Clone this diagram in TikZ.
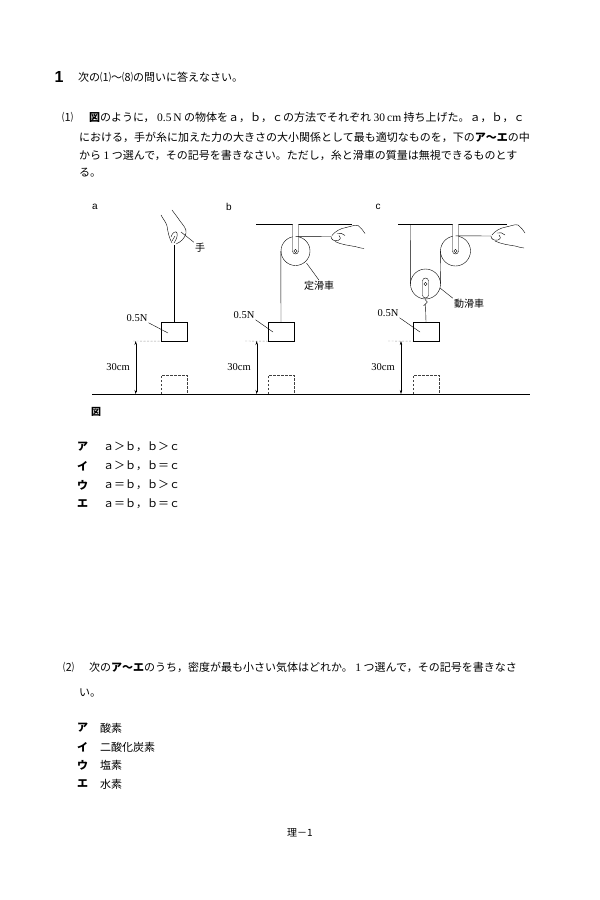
\documentclass[tikz,border=0pt]{standalone}
\usepackage{fontspec}
\setmainfont{Liberation Serif}
\setsansfont{Liberation Sans}
\newfontfamily\jp{Noto Sans CJK JP}
\XeTeXlinebreaklocale "ja"
\XeTeXlinebreakskip=0pt plus 3pt minus 1pt
\usetikzlibrary{positioning, arrows.meta}
\tikzset{>=stealth}
\newcommand\latn[1]{\hspace{2.5pt}{\rmfamily\fontsize{11.5}{11.5}\selectfont #1}\hspace{2.5pt}}
\newcommand\gth[1]{{\bfseries #1}}
\newcommand\jline[2]{\makebox[#1][s]{#2}}
\tikzset{
  weight/.style={draw, minimum width=26pt, minimum height=19pt, inner sep=0pt},
  ghost/.style={draw=black!75, dash pattern=on 2.5pt off 1.5pt},
  level/.style={draw=black!40, dash pattern=on 2pt off 1.5pt},
  pulley/.style={draw, circle, inner sep=0pt, fill=white},
  dim/.style={<->, >={Stealth[length=4pt, width=2.4pt]}},
  hand/.style={line width=0.4pt, line cap=round},
  fig/.style={font=\rmfamily\fontsize{10.5}{10.5}\selectfont, inner sep=1pt},
  figj/.style={font=\jp\fontsize{10}{10}\selectfont, inner sep=1pt},
  jtxt/.style={anchor=west, inner sep=0pt, font=\jp\fontsize{11}{11}\selectfont},
  grip/.pic={
    \draw[hand] (1,-1) .. controls (4,-5) and (9,-8) .. (15,-9) .. controls (20,-10) and (24,-12) .. (27,-11) .. controls (30,-9) and (32,-6) .. (34,-3);
    \draw[hand] (4,5) .. controls (10,8) and (18,9) .. (24,10) .. controls (28,11) and (31,12) .. (33,12);
    \draw[hand] (0,0) .. controls (0,3) and (3,5) .. (7,4) .. controls (10,3) and (10,0) .. (8,-1);
    \draw[hand] (6,-3) .. controls (9,-4) and (12,-3) .. (14,-1);
  },
}

\begin{document}
\begin{tikzpicture}[x=1pt, y=-1pt]
\useasboundingbox (0,0) rectangle (600,900);

% question 1
\node[font=\sffamily\bfseries\fontsize{16}{16}\selectfont, inner sep=0pt] (qnum) at (59,77) {1};
\node[jtxt] (lead) at (78,77) {次の⑴～⑻の問いに答えなさい。};
\node[jtxt] (q1no) at (62,117) {⑴};
\node[jtxt] (q1a) at (89,117) {\jline{443pt}{\gth{図}のように，\latn{0.5\,N}の物体をａ，ｂ，ｃの方法でそれぞれ\latn{30\,cm}持ち上げた。ａ，ｂ，ｃ}};
\node[jtxt] (q1b) at (79,137) {\jline{453pt}{における，手が糸に加えた力の大きさの大小関係として最も適切なものを，下の\gth{ア～エ}の中}};
\node[jtxt] (q1c) at (79,155) {\jline{453pt}{から\latn{1}つ選んで，その記号を書きなさい。ただし，糸と滑車の質量は無視できるものとす}};
\node[jtxt] (q1d) at (79,173) {る。};

% figure
\node[font=\sffamily\fontsize{10}{10}\selectfont, inner sep=0pt] (labA) at (95,207) {a};
\node[font=\sffamily\fontsize{10}{10}\selectfont, inner sep=0pt] (labB) at (229,207) {b};
\node[font=\sffamily\fontsize{10}{10}\selectfont, inner sep=0pt] (labC) at (378,207) {c};
\draw[line width=0.6pt] (92,394) -- (530,394);
\draw (256,224) -- (352,224);
\draw (398,224) -- (507,224);

% a
\node[weight] (boxA) at (174,331.5) {};
\draw[ghost] (161,394) |- (187,375) -- (187,394);
\coordinate (handA) at (174,245);
\draw (boxA.north) -- (handA);
\draw[hand] (161,215) .. controls (163,219) and (166,222) .. (167,226) .. controls (168,232) and (169,238) .. (172,243);
\draw[hand] (172,210) .. controls (175,214) and (178,218) .. (180,221) .. controls (183,225) and (187,229) .. (186,233) .. controls (185,238) and (181,242) .. (176,244);
\draw[hand] (171,237) .. controls (172,233) and (176,230) .. (177,233) .. controls (178,236) and (176,240) .. (174,243);
\draw[hand] (175,236) -- (172,241);
\node[figj] (te) at (200,248) {手};
\coordinate (teP) at (181,232);
\draw[line width=0.4pt] (teP) -- (te.north west);
\node[fig] (wA) at (137,318) {0.5N};
\coordinate (wAP) at (168,333);
\draw[line width=0.4pt] (wA.south east) -- (wAP);
\coordinate (topA) at (135.7,341);
\coordinate (botA) at (135.7,394);
\draw[level] (133,341) -- (boxA.south west);
\draw[dim, line width=0.4pt] (topA) -- (botA);
\node[fig, anchor=east] (hA) at (131,367) {30cm};

% b
\node[pulley, minimum size=29pt] (fixB) at (295.5,251) {};
\draw[fill=white] (292.5,224) -- (292.5,251) arc[start angle=180, end angle=0, radius=3] -- (298.5,224);
\draw (fixB.center) circle[radius=1.6];
\node[weight] (boxB) at (281,331.5) {};
\draw[ghost] (268,394) |- (294,375) -- (294,394);
\coordinate (handB) at (331,236.5);
\draw (fixB.west) -- (boxB.north);
\draw (fixB.north) -- (handB);
\pic at (handB) {grip};
\node[figj] (teiB) at (319,286) {定滑車};
\coordinate (teiP) at (306.5,263);
\draw[line width=0.4pt] (teiP) -- (teiB.north);
\node[fig] (wB) at (244,315) {0.5N};
\coordinate (wBP) at (273,332);
\draw[line width=0.4pt] (wB.south east) -- (wBP);
\coordinate (topB) at (256.7,341);
\coordinate (botB) at (256.7,394);
\draw[level] (245,341) -- (boxB.south west);
\draw[dim, line width=0.4pt] (topB) -- (botB);
\node[fig, anchor=east] (hB) at (252,367) {30cm};

% c
\node[pulley, minimum size=30pt] (fixC) at (455.5,251) {};
\draw[fill=white] (452.5,224) -- (452.5,251) arc[start angle=180, end angle=0, radius=3] -- (458.5,224);
\draw (fixC.center) circle[radius=1.6];
\node[pulley, minimum size=30pt] (movC) at (425.5,284) {};
\draw[fill=white, rounded corners=3pt] (422.5,278) rectangle (428.5,298);
\draw (movC.center) circle[radius=1.6];
\coordinate (hookC) at (425.5,305);
\draw[line width=0.4pt] (425.5,298) -- (425.5,300) .. controls (428,300.5) and (428,303.5) .. (425.5,304) .. controls (423.5,304.5) and (423.5,306.5) .. (hookC);
\node[weight] (boxC) at (426,331.5) {};
\draw[ghost] (413,394) |- (439,375) -- (439,394);
\coordinate (roofC) at (410.5,224);
\coordinate (handC) at (491,236);
\draw (roofC) -- (movC.west);
\draw (movC.east) -- (fixC.west);
\draw (fixC.north) -- (handC);
\draw (hookC) -- (boxC.north);
\pic at (handC) {grip};
\node[figj] (douC) at (469,304) {動滑車};
\coordinate (douP) at (440,288);
\draw[line width=0.4pt] (douP) -- (douC.north west);
\node[fig] (wC) at (388,313) {0.5N};
\coordinate (wCP) at (420,332);
\draw[line width=0.4pt] (wC.south east) -- (wCP);
\coordinate (topC) at (401,341);
\coordinate (botC) at (401,394);
\draw[level] (388,341) -- (boxC.south west);
\draw[dim, line width=0.4pt] (topC) -- (botC);
\node[fig, anchor=east] (hC) at (396,367) {30cm};

\node[font=\jp\bfseries\fontsize{10}{10}\selectfont, inner sep=0pt] (zu) at (96,412) {図};

% choices of (1)
\node[jtxt, font=\jp\bfseries\fontsize{11}{11}\selectfont] (o1a) at (77,447) {ア};
\node[jtxt] (t1a) at (103,447) {ａ＞ｂ，ｂ＞ｃ};
\node[jtxt, font=\jp\bfseries\fontsize{11}{11}\selectfont] (o1b) at (77,466) {イ};
\node[jtxt] (t1b) at (103,466) {ａ＞ｂ，ｂ＝ｃ};
\node[jtxt, font=\jp\bfseries\fontsize{11}{11}\selectfont] (o1c) at (77,485) {ウ};
\node[jtxt] (t1c) at (103,485) {ａ＝ｂ，ｂ＞ｃ};
\node[jtxt, font=\jp\bfseries\fontsize{11}{11}\selectfont] (o1d) at (77,504) {エ};
\node[jtxt] (t1d) at (103,504) {ａ＝ｂ，ｂ＝ｃ};

% question 2
\node[jtxt] (q2no) at (63,667) {⑵};
\node[jtxt] (q2a) at (89,667) {\jline{443pt}{次の\gth{ア～エ}のうち，密度が最も小さい気体はどれか。\latn{1}つ選んで，その記号を書きなさ}};
\node[jtxt] (q2b) at (79,693) {い。};
\node[jtxt, font=\jp\bfseries\fontsize{11}{11}\selectfont] (o2a) at (77,728) {ア};
\node[jtxt] (t2a) at (100,728) {酸素};
\node[jtxt, font=\jp\bfseries\fontsize{11}{11}\selectfont] (o2b) at (77,747) {イ};
\node[jtxt] (t2b) at (100,747) {二酸化炭素};
\node[jtxt, font=\jp\bfseries\fontsize{11}{11}\selectfont] (o2c) at (77,765) {ウ};
\node[jtxt] (t2c) at (100,765) {塩素};
\node[jtxt, font=\jp\bfseries\fontsize{11}{11}\selectfont] (o2d) at (77,784) {エ};
\node[jtxt] (t2d) at (100,784) {水素};

\node[font=\jp\fontsize{10}{10}\selectfont, inner sep=0pt] (page) at (300,833) {理－1};
\end{tikzpicture}
\end{document}
